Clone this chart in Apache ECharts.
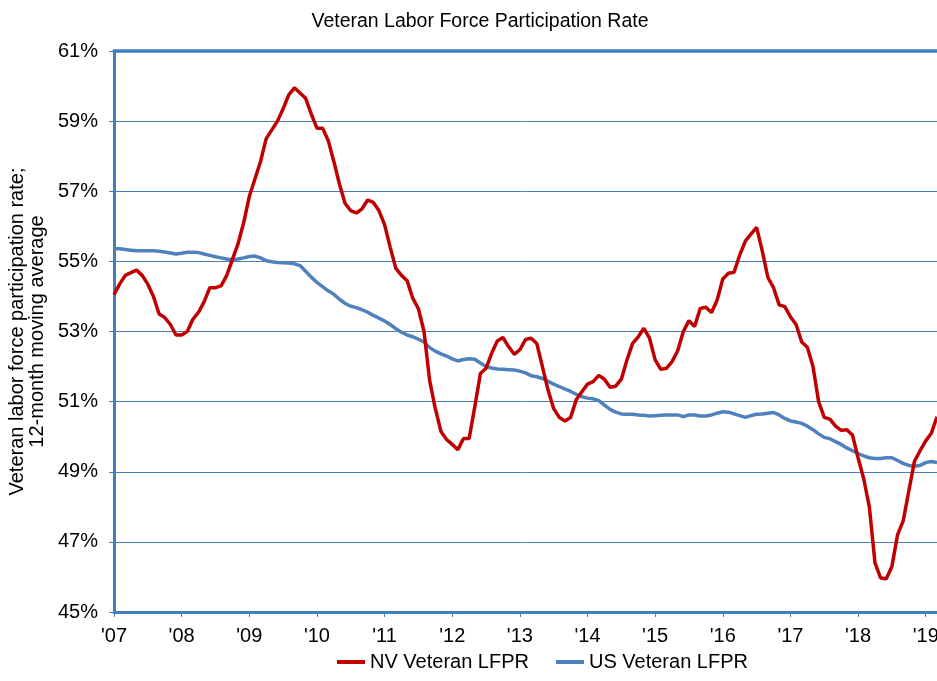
<!DOCTYPE html>
<html>
<head>
<meta charset="utf-8">
<script src="https://cdn.jsdelivr.net/npm/echarts@6/dist/echarts.min.js"></script>
<style>
    html, body {margin: 0; padding: 0; background: #fff;}
    #chart {width: 937px; height: 681px;}
</style>
</head>
<body>
<div id="chart"></div>
<script>
// months Jan 2007 .. Mar 2019
const months = [];
for (let y = 2007; y <= 2019; y++) {
    for (let m = 1; m <= 12; m++) {
        if (y === 2019 && m > 3) break;
        months.push(y + '-' + (m < 10 ? '0' + m : m));
    }
}

// NV veteran LFPR, 12-month moving average
const nvValues = [
    54.05, 54.35, 54.6, 54.68, 54.75, 54.6, 54.35, 54.0, 53.5, 53.4, 53.2, 52.9,
    52.9, 53.0, 53.35, 53.55, 53.85, 54.25, 54.25, 54.3, 54.6, 55.05, 55.5, 56.1,
    56.85, 57.35, 57.85, 58.5, 58.75, 59.0, 59.35, 59.75, 59.95, 59.8, 59.65, 59.2,
    58.8, 58.8, 58.45, 57.85, 57.2, 56.65, 56.45, 56.38, 56.5, 56.75, 56.68, 56.45,
    56.05, 55.4, 54.8, 54.6, 54.45, 53.95, 53.65, 53.0, 51.6, 50.8, 50.15, 49.92,
    49.78, 49.63, 49.95, 49.95, 50.85, 51.8, 51.95, 52.38, 52.73, 52.83, 52.57, 52.35,
    52.48, 52.77, 52.81, 52.66, 52.0, 51.33, 50.8, 50.55, 50.45, 50.55, 51.05, 51.28,
    51.5, 51.57, 51.75, 51.64, 51.41, 51.44, 51.64, 52.19, 52.66, 52.85, 53.09, 52.81,
    52.19, 51.92, 51.95, 52.14, 52.45, 53.0, 53.31, 53.14, 53.66, 53.69, 53.54, 53.9,
    54.5, 54.66, 54.69, 55.18, 55.58, 55.78, 55.97, 55.3, 54.54, 54.25, 53.76, 53.71,
    53.42, 53.2, 52.7, 52.55, 52.0, 51.0, 50.55, 50.5, 50.3, 50.18, 50.2, 50.05,
    49.4, 48.8, 48.0, 46.4, 45.97, 45.95, 46.3, 47.2, 47.6, 48.45, 49.3, 49.6,
    49.88, 50.1, 50.57
];

// US veteran LFPR
const usValues = [
    55.37, 55.36, 55.34, 55.32, 55.30, 55.30, 55.30, 55.30, 55.29, 55.27, 55.24, 55.21,
    55.23, 55.26, 55.26, 55.25, 55.21, 55.17, 55.13, 55.10, 55.07, 55.05, 55.07, 55.10,
    55.14, 55.15, 55.10, 55.02, 54.99, 54.97, 54.96, 54.95, 54.93, 54.88, 54.72, 54.55,
    54.40, 54.28, 54.16, 54.06, 53.92, 53.80, 53.72, 53.68, 53.62, 53.55, 53.46, 53.38,
    53.30, 53.20, 53.08, 52.98, 52.90, 52.85, 52.78, 52.70, 52.54, 52.44, 52.36, 52.30,
    52.22, 52.16, 52.20, 52.22, 52.21, 52.10, 52.00, 51.96, 51.93, 51.92, 51.91, 51.90,
    51.87, 51.82, 51.74, 51.71, 51.66, 51.58, 51.50, 51.43, 51.36, 51.29, 51.21, 51.14,
    51.10, 51.08, 51.03, 50.90, 50.78, 50.70, 50.65, 50.64, 50.64, 50.62, 50.61, 50.59,
    50.60, 50.61, 50.62, 50.62, 50.62, 50.57, 50.62, 50.62, 50.59, 50.59, 50.62, 50.67,
    50.71, 50.70, 50.65, 50.60, 50.55, 50.60, 50.64, 50.65, 50.67, 50.69, 50.62, 50.52,
    50.45, 50.42, 50.38, 50.30, 50.20, 50.08, 49.98, 49.94, 49.86, 49.78, 49.68, 49.60,
    49.52, 49.45, 49.40, 49.38, 49.38, 49.40, 49.40, 49.32, 49.24, 49.18, 49.16, 49.18,
    49.26, 49.29, 49.26
];

const seriesNames = ['NV Veteran LFPR', 'US Veteran LFPR'];
const axisBlue = '#3F7FC0';
const font = 'Arial, "Liberation Sans", sans-serif';

const chart = echarts.init(document.getElementById('chart'));
const isYearStart = idx => idx % 12 === 0;

const option = {
    animation: false,
    title: {
        text: 'Veteran Labor Force Participation Rate',
        left: 475,
        textAlign: 'center',
        top: 7,
        textStyle: {fontFamily: font, fontSize: 19.5, fontWeight: 'normal', color: '#000'}
    },
    legend: {
        data: seriesNames,
        bottom: 4,
        left: 332,
        itemWidth: 28,
        itemHeight: 4,
        itemGap: 27,
        icon: 'rect',
        textStyle: {fontFamily: font, fontSize: 20, color: '#000'}
    },
    grid: {left: 114, right: 0, top: 51, bottom: 69, containLabel: false, outerBoundsMode: 'none'},
    xAxis: [
        {
            type: 'category',
            data: months,
            boundaryGap: false,
            axisLine: {lineStyle: {color: axisBlue, width: 3}},
            axisTick: {interval: isYearStart, length: 5, lineStyle: {color: axisBlue, width: 1}},
            axisLabel: {
                interval: isYearStart,
                formatter: v => "'" + v.slice(2, 4),
                fontFamily: font, fontSize: 20, color: '#000', margin: 14
            },
            splitLine: {show: false}
        },
        {
            type: 'category',
            data: months,
            position: 'top',
            boundaryGap: false,
            axisLine: {lineStyle: {color: axisBlue, width: 3.5}},
            axisTick: {show: false},
            axisLabel: {show: false},
            splitLine: {show: false}
        }
    ],
    yAxis: {
        type: 'value',
        min: 45,
        max: 61,
        interval: 2,
        name: 'Veteran labor force participation rate;\n12-month moving average',
        nameLocation: 'middle',
        nameGap: 61,
        nameRotate: 90,
        nameTextStyle: {fontFamily: font, fontSize: 20, color: '#000', lineHeight: 20},
        axisLine: {show: true, lineStyle: {color: axisBlue, width: 3}},
        axisTick: {show: true, length: 5, lineStyle: {color: axisBlue, width: 1}},
        axisLabel: {formatter: v => v + '%', fontFamily: font, fontSize: 20, color: '#000', margin: 16},
        splitLine: {lineStyle: {color: '#4A7EBB', width: 1}}
    },
    series: [
        {
            name: seriesNames[0],
            type: 'line',
            data: nvValues,
            showSymbol: false,
            z: 3,
            lineStyle: {color: '#C00000', width: 3.5},
            itemStyle: {color: '#C00000'}
        },
        {
            name: seriesNames[1],
            type: 'line',
            data: usValues,
            showSymbol: false,
            z: 2,
            lineStyle: {color: '#4F81BD', width: 3.5},
            itemStyle: {color: '#4F81BD'}
        }
    ]
};
chart.setOption(option);
</script>
</body>
</html>
